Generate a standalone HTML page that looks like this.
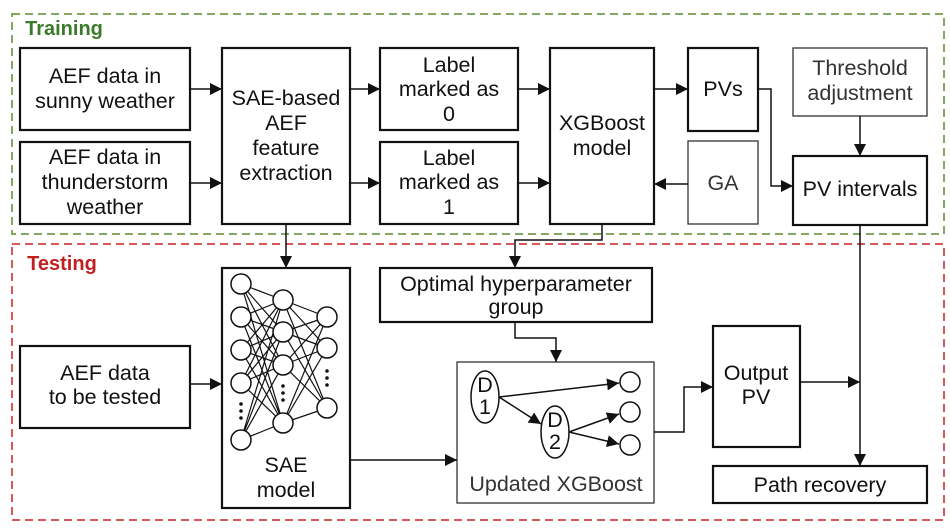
<!DOCTYPE html><html><head><style>body{margin:0;background:#fff}svg{display:block}text{font-family:"Liberation Sans",sans-serif;font-size:21.5px;fill:#111;text-anchor:middle}</style></head><body>
<svg width="950" height="532" viewBox="0 0 950 532" xmlns="http://www.w3.org/2000/svg">
<defs><marker id="a" viewBox="0 0 10 10" refX="10" refY="5" markerWidth="12" markerHeight="12" markerUnits="userSpaceOnUse" orient="auto"><path d="M0,0L10,5L0,10z" fill="#111"/></marker></defs>
<rect x="12" y="14" width="932" height="220" fill="none" stroke="#5a8a30" stroke-width="1.5" stroke-dasharray="8,5"/>
<rect x="12" y="244" width="932" height="276" fill="none" stroke="#c82020" stroke-width="1.5" stroke-dasharray="8,5"/>
<text x="64" y="35" style="font-weight:bold;fill:#3a7a2a;font-size:20px">Training</text>
<text x="62" y="270" style="font-weight:bold;fill:#c02020;font-size:20px">Testing</text>
<g fill="#fff" stroke="#111" stroke-width="2.2">
<rect x="20" y="48" width="170" height="82"/><rect x="20" y="142" width="170" height="82"/>
<rect x="222" y="48" width="128" height="176"/><rect x="380" y="48" width="138" height="82"/><rect x="380" y="142" width="138" height="82"/>
<rect x="550" y="48" width="104" height="176"/><rect x="688" y="48" width="70" height="83"/>
<rect x="793" y="156" width="134" height="69"/>
<rect x="20" y="346" width="170" height="82"/><rect x="222" y="268" width="128" height="240"/>
<rect x="380" y="268" width="272" height="54"/><rect x="713" y="326" width="87" height="121"/><rect x="713" y="466" width="214" height="37"/>
</g>
<g fill="#fff" stroke="#333" stroke-width="1.3"><rect x="688" y="141" width="70" height="83"/><rect x="793" y="48" width="134" height="68"/><rect x="457" y="362" width="197" height="141"/></g>
<text x="105" y="83">AEF data in</text><text x="105" y="108">sunny weather</text>
<text x="105" y="164">AEF data in</text><text x="105" y="189">thunderstorm</text><text x="105" y="214">weather</text>
<text x="286" y="105">SAE-based</text><text x="286" y="130">AEF</text><text x="286" y="155">feature</text><text x="286" y="180">extraction</text>
<text x="449" y="72">Label</text><text x="449" y="96">marked as</text><text x="449" y="121">0</text>
<text x="449" y="165">Label</text><text x="449" y="189">marked as</text><text x="449" y="214">1</text>
<text x="602" y="130">XGBoost</text><text x="602" y="155">model</text>
<text x="723" y="96">PVs</text><text x="723" y="190" style="fill:#333">GA</text>
<text x="860" y="75" style="fill:#333">Threshold</text><text x="860" y="100" style="fill:#333">adjustment</text>
<text x="860" y="196">PV intervals</text>
<text x="105" y="380">AEF data</text><text x="105" y="404">to be tested</text>
<text x="286" y="472">SAE</text><text x="286" y="497">model</text>
<text x="516" y="291">Optimal hyperparameter</text><text x="516" y="314">group</text>
<text x="756" y="380">Output</text><text x="756" y="404">PV</text>
<text x="820" y="492">Path recovery</text>
<text x="556" y="491" style="fill:#333">Updated XGBoost</text>
<g fill="none" stroke="#111" stroke-width="1.5">
<path d="M190 89H222" marker-end="url(#a)"/><path d="M190 183H222" marker-end="url(#a)"/>
<path d="M350 89H380" marker-end="url(#a)"/><path d="M350 183H380" marker-end="url(#a)"/>
<path d="M518 89H550" marker-end="url(#a)"/><path d="M518 183H550" marker-end="url(#a)"/>
<path d="M654 89H688" marker-end="url(#a)"/><path d="M688 184H654" marker-end="url(#a)"/>
<path d="M758 89H771V186H793" marker-end="url(#a)"/><path d="M860 116V156" marker-end="url(#a)"/>
<path d="M602 224V240H515V268" marker-end="url(#a)"/><path d="M286 224V268" marker-end="url(#a)"/>
<path d="M515 322V338H556V362" marker-end="url(#a)"/>
<path d="M190 384H222" marker-end="url(#a)"/><path d="M350 460H457" marker-end="url(#a)"/>
<path d="M654 432H684V387H713" marker-end="url(#a)"/>
<path d="M800 382H860" marker-end="url(#a)"/><path d="M860 225V466" marker-end="url(#a)"/>
<path d="M499 397L619 383" marker-end="url(#a)"/><path d="M499 397L541 424" marker-end="url(#a)"/>
<path d="M569 432L619 414" marker-end="url(#a)"/><path d="M569 432L619 444" marker-end="url(#a)"/>
</g>
<g stroke="#111" stroke-width="1.2">
<path d="M241 284L283 300M241 284L283 332M241 284L283 365M241 284L283 423M241 317L283 300M241 317L283 332M241 317L283 365M241 317L283 423M241 350L283 300M241 350L283 332M241 350L283 365M241 350L283 423M241 383L283 300M241 383L283 332M241 383L283 365M241 383L283 423M241 440L283 300M241 440L283 332M241 440L283 365M241 440L283 423M283 300L327 317M283 300L327 348M283 300L327 408M283 332L327 317M283 332L327 348M283 332L327 408M283 365L327 317M283 365L327 348M283 365L327 408M283 423L327 317M283 423L327 348M283 423L327 408"/>
</g>
<g fill="#fff" stroke="#111" stroke-width="1.5">
<circle cx="241" cy="284" r="10"/><circle cx="241" cy="317" r="10"/><circle cx="241" cy="350" r="10"/><circle cx="241" cy="383" r="10"/><circle cx="241" cy="440" r="10"/>
<circle cx="283" cy="300" r="10"/><circle cx="283" cy="332" r="10"/><circle cx="283" cy="365" r="10"/><circle cx="283" cy="423" r="10"/>
<circle cx="327" cy="317" r="10"/><circle cx="327" cy="348" r="10"/><circle cx="327" cy="408" r="10"/>
<ellipse cx="485" cy="397" rx="14" ry="26"/><ellipse cx="555" cy="432" rx="14" ry="26"/>
<circle cx="630" cy="382" r="10"/><circle cx="630" cy="412" r="10"/><circle cx="630" cy="445" r="10"/>
</g>
<g fill="#111"><circle cx="241" cy="404" r="1.8"/><circle cx="241" cy="411" r="1.8"/><circle cx="241" cy="418" r="1.8"/>
<circle cx="283" cy="386" r="1.8"/><circle cx="283" cy="393" r="1.8"/><circle cx="283" cy="400" r="1.8"/>
<circle cx="327" cy="371" r="1.8"/><circle cx="327" cy="378" r="1.8"/><circle cx="327" cy="385" r="1.8"/></g>
<text x="485" y="392">D</text><text x="485" y="414">1</text><text x="555" y="427">D</text><text x="555" y="449">2</text>
</svg></body></html>
